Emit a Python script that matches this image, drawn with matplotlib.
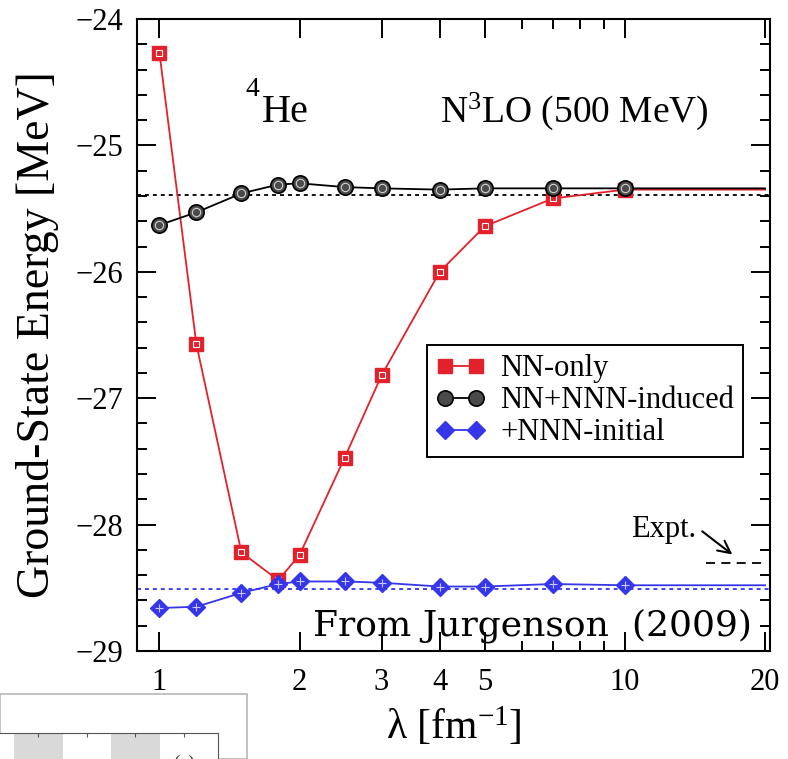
import matplotlib
matplotlib.use("Agg")
import matplotlib.pyplot as plt
from matplotlib.ticker import FixedLocator, NullFormatter
from matplotlib.patches import Rectangle

plt.rcParams['font.family'] = ['Liberation Serif', 'DejaVu Serif']
plt.rcParams['mathtext.fontset'] = 'custom'
plt.rcParams['mathtext.rm'] = 'Liberation Serif'
plt.rcParams['mathtext.it'] = 'Liberation Serif:italic'

# lambda values (fm^-1); the last point only carries the line to the edge
lam = [1, 1.2, 1.5, 1.8, 2, 2.5, 3, 4, 5, 7, 10, 20]
nn_only = [-24.27, -26.57, -28.22, -28.44, -28.24, -27.47, -26.82, -26.00, -25.64, -25.42, -25.35, -25.35]
nnn_induced = [-25.63, -25.53, -25.38, -25.31, -25.30, -25.33, -25.34, -25.35, -25.34, -25.34, -25.34, -25.34]
nnn_initial = [-28.66, -28.65, -28.54, -28.47, -28.45, -28.45, -28.46, -28.49, -28.49, -28.47, -28.48, -28.48]

ref_induced = -25.39
ref_initial = -28.51
expt = -28.30
expt_range = [14.9, 20]

x_major = [1, 2, 3, 4, 5, 10, 20]
x_minor = [6, 7, 8, 9]

red = '#e3212b'
blue = '#3535ea'

fig = plt.figure(figsize=(7.88, 7.59), dpi=100)
ax = fig.add_axes([0.1739, 0.1423, 0.8033, 0.8327])

ax.axhline(ref_induced, color='black', lw=1.3, ls=(0, (2.2, 2.2)))
ax.axhline(ref_initial, color=blue, lw=1.3, ls=(0, (2.2, 2.2)))
ax.plot(expt_range, [expt, expt], color='black', lw=1.3, ls=(0, (5, 3.5)))

marks = slice(0, -1)
ax.plot(lam, nn_only, color=red, lw=1.3, marker='s', ms=10, mfc=red, mec=red,
        markevery=marks, label='NN-only', zorder=3)
ax.plot(lam, nnn_induced, color='black', lw=1.3, marker='o', ms=11, mfc='#4a4a4a',
        mec='black', mew=1.2, markevery=marks, label='NN+NNN-induced', zorder=4)
ax.plot(lam, nnn_initial, color=blue, lw=1.3, marker='D', ms=9, mfc=blue, mec=blue,
        markevery=marks, label='+NNN-initial', zorder=5)

# inner texture of the symbols
ax.plot(lam[:-1], nn_only[:-1], ls='none', marker='s', ms=5, mfc='none', mec='white', mew=0.8, zorder=3)
ax.plot(lam[:-1], nnn_induced[:-1], ls='none', marker='o', ms=6, mfc='none', mec='#d0d0d0', mew=0.8, zorder=4)
ax.plot(lam[:-1], nnn_initial[:-1], ls='none', marker='+', ms=6, mec='#c8c8ff', mew=0.8, zorder=5)

ax.set_xscale('log')
ax.set_xlim(0.895, 20.5)
ax.set_ylim(-29, -24)
ax.xaxis.set_major_locator(FixedLocator(x_major))
ax.xaxis.set_minor_locator(FixedLocator(x_minor))
ax.xaxis.set_minor_formatter(NullFormatter())
ax.set_xticklabels([str(v) for v in x_major])
ax.yaxis.set_major_locator(FixedLocator([-29, -28, -27, -26, -25, -24]))
ax.yaxis.set_minor_locator(FixedLocator([v / 10 for v in range(-290, -240, 2)]))

ax.tick_params(which='both', direction='in', top=True, right=True, width=1.4, labelsize=22)
ax.tick_params(which='major', length=13.5)
ax.tick_params(which='minor', length=7)
ax.tick_params(axis='x', pad=12)
ax.tick_params(axis='y', pad=10)
for s in ax.spines.values():
    s.set_linewidth(1.5)

ax.set_ylabel('Ground-State Energy [MeV]', fontsize=33, labelpad=12)
ax.set_xlabel(r'λ [fm$^{\mathregular{-1}}$]', fontsize=30, labelpad=6)

ax.text(0.171, 0.878, '4', transform=ax.transAxes, fontsize=20)
ax.text(0.197, 0.837, 'He', transform=ax.transAxes, fontsize=29)
ax.text(0.478, 0.837, r'N$^{\mathregular{3}}$LO (500 MeV)', transform=ax.transAxes, fontsize=27)

ax.annotate('', xy=(17.2, -28.25), xytext=(14.5, -28.04),
            arrowprops=dict(arrowstyle='->', color='black', lw=1.5, mutation_scale=22))
ax.text(14.2, -28.04, 'Expt.', fontsize=22, ha='right', va='center')

ax.text(0.278, 0.04, 'From Jurgenson  (2009)', transform=ax.transAxes,
        fontsize=26, family='DejaVu Serif', va='center', zorder=6)

leg = ax.legend(loc='upper left', bbox_to_anchor=(0.458, 0.484), borderaxespad=0,
                fontsize=22, numpoints=2, handlelength=1.6, handletextpad=0.5,
                labelspacing=0.1, borderpad=0.3, fancybox=False, framealpha=1)
leg.get_frame().set_edgecolor('black')
leg.get_frame().set_linewidth(1.4)

# corner of the next figure, cut off at the bottom left
fig.patches.append(Rectangle((0, 0), 0.313, 0.086, transform=fig.transFigure,
                             facecolor='white', edgecolor='#b8b8b8', lw=1.2, zorder=-1))
ax2 = fig.add_axes([-0.01, -0.02, 0.287, 0.054])
ax2.set_zorder(2)
ax2.set_xlim(0, 4)
ax2.set_ylim(0, 1)
for left, right in [(0.39, 1.26), (2.11, 2.97)]:
    ax2.axvspan(left, right, color='#d9d9d9', lw=0)
ax2.set_xticks([0.81, 1.68, 2.53, 3.4])
ax2.set_xticklabels([])
ax2.set_yticks([])
ax2.tick_params(direction='in', length=3, width=0.8, colors='#555555', top=True, bottom=False)
for s in ax2.spines.values():
    s.set_color('#555555')
    s.set_linewidth(0.8)
ax2.text(3.2, 0.05, '(a)', fontsize=14, color='#333333', va='bottom')

fig.savefig('out.png', dpi=100)
